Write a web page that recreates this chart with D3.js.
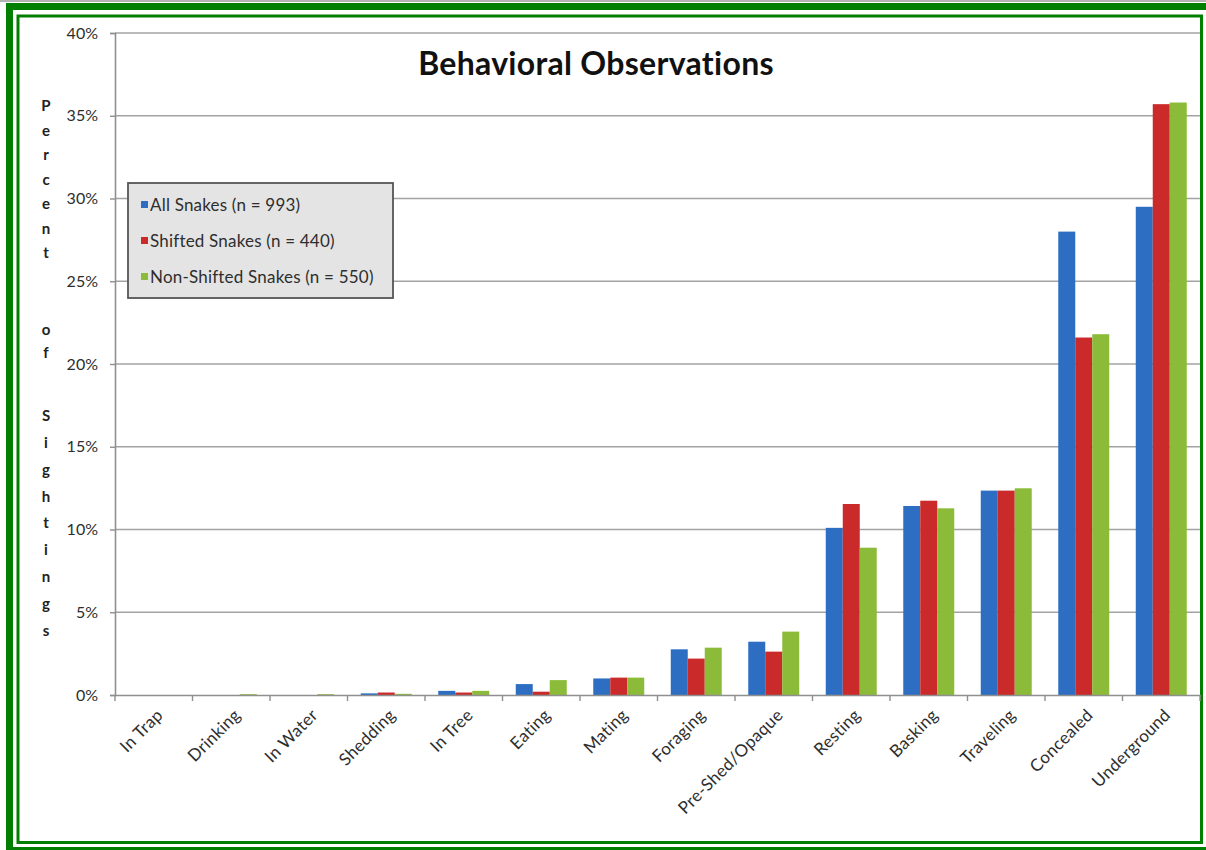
<!DOCTYPE html>
<html>
<head>
<meta charset="utf-8">
<script src="https://cdn.jsdelivr.net/npm/d3@7"></script>
<style>
  html, body { margin: 0; padding: 0; background: #ffffff; }
  svg { display: block; }
  text { font-family: Lato, "Open Sans", sans-serif; }
</style>
</head>
<body>
<svg id="chart" width="1206" height="850"></svg>
<script>
// Behaviour categories, ordered from least to most frequent
const categories = ["In Trap", "Drinking", "In Water", "Shedding", "In Tree", "Eating", "Mating",
  "Foraging", "Pre-Shed/Opaque", "Resting", "Basking", "Traveling", "Concealed", "Underground"];

// Percent of sightings for each group
const allSnakes = [0, 0, 0, 0.1, 0.25, 0.66, 1.0, 2.76, 3.22, 10.1, 11.42, 12.35, 28.0, 29.5];
const shiftedSnakes = [0, 0, 0, 0.15, 0.15, 0.2, 1.05, 2.2, 2.62, 11.54, 11.74, 12.35, 21.6, 35.7];
const nonShiftedSnakes = [0, 0.05, 0.05, 0.07, 0.25, 0.9, 1.05, 2.86, 3.83, 8.9, 11.28, 12.49, 21.8, 35.8];

const seriesNames = ["All Snakes (n = 993)", "Shifted Snakes (n = 440)", "Non-Shifted Snakes (n = 550)"];
const seriesColors = ["#2d6ec3", "#cb2a2b", "#8cbb39"];
const yTicks = [0, 5, 10, 15, 20, 25, 30, 35, 40];
const yTitleWords = ["Percent", "of", "Sightings"];

const seriesValues = [allSnakes, shiftedSnakes, nonShiftedSnakes];
const rows = categories.map((c, i) => ({ category: c, values: seriesValues.map(s => s[i]) }));

const svg = d3.select("#chart");

// Double green frame
svg.append("rect").attr("x", 9.5).attr("y", 6.5).attr("width", 1206).attr("height", 844)
  .attr("fill", "none").attr("stroke", "#007f00").attr("stroke-width", 7);
svg.append("rect").attr("x", 18).attr("y", 16).attr("width", 1183.5).attr("height", 826.5)
  .attr("fill", "none").attr("stroke", "#007f00").attr("stroke-width", 3);
svg.append("line").attr("x1", 0).attr("x2", 1206).attr("y1", 1).attr("y2", 1)
  .attr("stroke", "#9a9a9a").attr("stroke-width", 1.5);

// Plot area
const plot = { left: 115, right: 1200, top: 33, bottom: 695 };

const y = d3.scaleLinear().domain([0, 40]).range([plot.bottom, plot.top]);
const x0 = d3.scaleBand().domain(categories).range([plot.left, plot.right]).paddingInner(0).paddingOuter(0);
const x1 = d3.scaleBand().domain(d3.range(seriesNames.length)).range([0, x0.bandwidth()])
  .paddingInner(0).paddingOuter(0.78);

// Horizontal gridlines
svg.append("g").selectAll("line").data(yTicks.filter(t => t > 0)).join("line")
  .attr("x1", plot.left).attr("x2", plot.right)
  .attr("y1", d => y(d)).attr("y2", d => y(d))
  .attr("stroke", "#a3a3a3").attr("stroke-width", 1.6);

// Y axis
const yAxis = d3.axisLeft(y).tickValues(yTicks).tickFormat(d => d + "%").tickSize(5).tickPadding(12);
const gy = svg.append("g").attr("transform", `translate(${plot.left},0)`).call(yAxis);
gy.select(".domain").attr("stroke", "#8f8f8f").attr("stroke-width", 1.6);
gy.selectAll(".tick line").attr("stroke", "#8f8f8f").attr("stroke-width", 1.4);
gy.selectAll(".tick text").attr("font-size", 16).attr("fill", "#2e2e2e")
  .attr("font-family", "Lato, sans-serif");

// Bars
const groups = svg.append("g").selectAll("g").data(rows).join("g")
  .attr("transform", d => `translate(${x0(d.category)},0)`);
groups.selectAll("rect").data(d => d.values.map((v, i) => ({ v, i }))).join("rect")
  .attr("x", d => x1(d.i))
  .attr("width", x1.bandwidth())
  .attr("y", d => y(d.v))
  .attr("height", d => y(0) - y(d.v))
  .attr("fill", d => seriesColors[d.i]);

// X axis with category boundary ticks
const xAxis = d3.axisBottom(x0).tickSize(0).tickFormat("");
const gx = svg.append("g").attr("transform", `translate(0,${plot.bottom})`).call(xAxis);
gx.select(".domain").attr("stroke", "#8f8f8f").attr("stroke-width", 1.6);
gx.selectAll(".tick").remove();
const bounds = categories.map(c => x0(c)).concat([plot.right]);
gx.selectAll("line.bound").data(bounds).join("line").attr("class", "bound")
  .attr("x1", d => d).attr("x2", d => d).attr("y1", 0).attr("y2", 6)
  .attr("stroke", "#8f8f8f").attr("stroke-width", 1.4);

// Rotated category labels
svg.append("g").selectAll("text").data(categories).join("text")
  .attr("transform", d => `translate(${x0(d) + x0.bandwidth() / 2 + 6},${plot.bottom + 17}) rotate(-45)`)
  .attr("text-anchor", "end")
  .attr("dy", "0.35em")
  .attr("font-size", 17)
  .attr("letter-spacing", 0.3)
  .attr("fill", "#2e2e2e")
  .text(d => d);

// Title
svg.append("text").attr("x", 596).attr("y", 75).attr("text-anchor", "middle")
  .attr("font-size", 32).attr("font-weight", "bold").attr("letter-spacing", 0.3).attr("fill", "#111")
  .text("Behavioral Observations");

// Vertical stacked-letter axis title
const titleStarts = [106, 330, 416];
const titleSteps = [24.5, 23, 26.8];
const yTitle = svg.append("g");
yTitleWords.forEach((w, wi) => {
  w.split("").forEach((ch, ci) => {
    yTitle.append("text")
      .attr("x", 46).attr("y", titleStarts[wi] + ci * titleSteps[wi])
      .attr("dy", "0.35em")
      .attr("text-anchor", "middle")
      .attr("font-family", "'Liberation Serif', serif")
      .attr("font-weight", "bold")
      .attr("font-size", 15)
      .attr("fill", "#222")
      .text(ch);
  });
});

// Legend
const legend = svg.append("g").attr("transform", "translate(128,183)");
legend.append("rect").attr("width", 265).attr("height", 115)
  .attr("fill", "#e4e4e4").attr("stroke", "#555").attr("stroke-width", 1.8);
const items = legend.selectAll("g.item").data(seriesNames).join("g").attr("class", "item")
  .attr("transform", (d, i) => `translate(0,${22 + i * 36})`);
items.append("rect").attr("x", 13).attr("y", -4).attr("width", 7).attr("height", 7)
  .attr("fill", (d, i) => seriesColors[i]);
items.append("text").attr("x", 22).attr("dy", "0.35em")
  .attr("font-size", 17).attr("letter-spacing", 0.2).attr("fill", "#2e2e2e").text(d => d);
</script>
</body>
</html>
